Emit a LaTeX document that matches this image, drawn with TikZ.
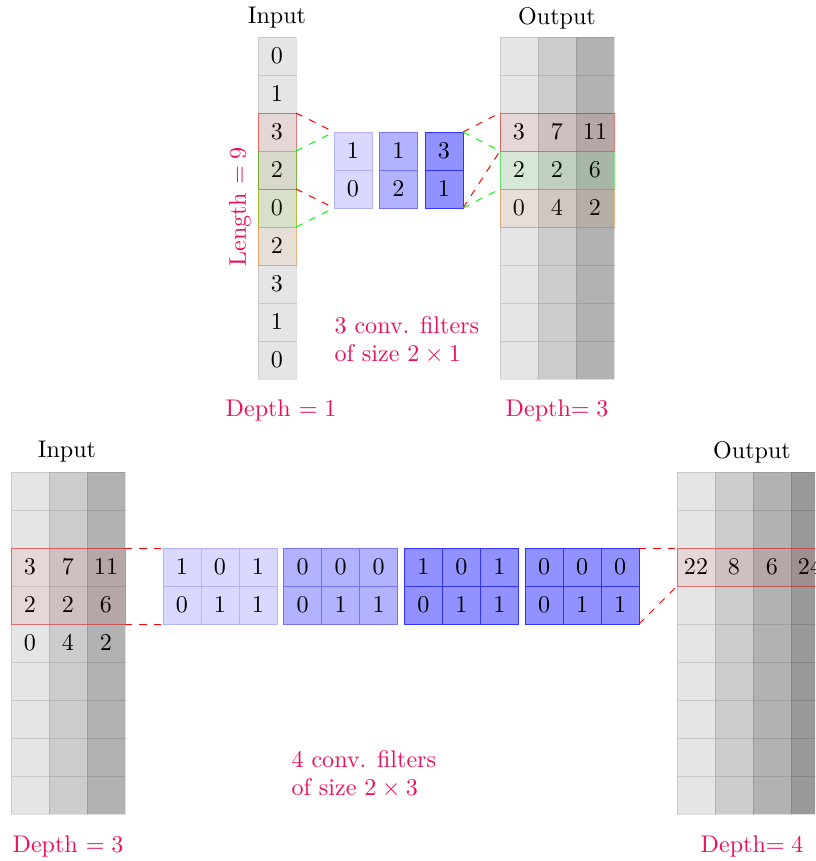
\documentclass[tikz,border=0pt]{standalone}
\colorlet{pinktxt}{magenta!50!red}
\tikzset{
  cell/.style={minimum width=5.548mm,minimum height=5.548mm,inner sep=0pt,outer sep=0pt,draw=black,draw opacity=0.12},
  fcell/.style={minimum width=5.548mm,minimum height=5.548mm,inner sep=0pt,outer sep=0pt},
  win/.style={draw=#1,draw opacity=0.45,fill=#1,fill opacity=0.06},
  link/.style={draw=#1,dashed},
  note/.style={text=pinktxt}
}
\begin{document}
\begin{tikzpicture}[x=0.0146cm,y=-0.0146cm]
        \path[use as bounding box] (0,0) rectangle (815,861);
        \clip (0,0) rectangle (815,861);
        % top: depth 1 -> depth 3
        \node (inlabA) at (277,18) {Input};
        \node (outlabA) at (557,18) {Output};
        \foreach \v [count=\r] in {0,1,3,2,0,2,3,1,0}
            \node[cell,fill=black!10] (in-\r) at (277,{18+38*\r}) {$\v$};
        \foreach \c/\sh/\a/\b/\d in {1/10/3/2/0,2/20/7/2/4,3/30/11/6/2}
            \foreach \r in {1,...,9}
                \node[cell,fill=black!\sh] (oa-\c-\r) at ({481+38*\c},{18+38*\r}) {\ifcase\r\or\or\or$\a$\or$\b$\or$\d$\fi};
        \foreach \k/\sh/\dr/\a/\b in {1/15/30/1/0,2/30/55/1/2,3/43/80/3/1}{
            \node[fcell,fill=blue!\sh,draw=blue!\dr] (fa\k-1) at ({307.5+45.5*\k},151) {$\a$};
            \node[fcell,fill=blue!\sh,draw=blue!\dr] (fa\k-2) at ({307.5+45.5*\k},189) {$\b$};
        }
        \draw[win=red] (in-3.north west) rectangle (in-4.south east);
        \draw[win=green] (in-4.north west) rectangle (in-5.south east);
        \draw[win=orange] (in-5.north west) rectangle (in-6.south east);
        \draw[win=red] (oa-1-3.north west) rectangle (oa-3-3.south east);
        \draw[win=green] (oa-1-4.north west) rectangle (oa-3-4.south east);
        \draw[win=orange] (oa-1-5.north west) rectangle (oa-3-5.south east);
        \draw[link=red] (in-3.north east) -- (fa1-1.north west);
        \draw[link=red] (in-4.south east) -- (fa1-2.south west);
        \draw[link=green] (in-4.north east) -- (fa1-1.north west);
        \draw[link=green] (in-5.south east) -- (fa1-2.south west);
        \draw[link=red] (fa3-1.north east) -- (oa-1-3.north west);
        \draw[link=red] (fa3-2.south east) -- (oa-1-3.south west);
        \draw[link=green] (fa3-1.north east) -- (oa-1-4.north west);
        \draw[link=green] (fa3-2.south east) -- (oa-1-4.south west);
        \node[note,rotate=90] (lenlab) at (240,207) {Length $=9$};
        \node[note,align=left,anchor=west] (filtlabA) at (326,340) {3 conv. filters\\of size $2\times1$};
        \node[note] (depthA) at (281,410) {Depth $=1$};
        \node[note] (depthB) at (557,410) {Depth$=3$};
        % bottom: depth 3 -> depth 4
        \node (inlabB) at (67,452) {Input};
        \node (outlabB) at (752,452) {Output};
        \foreach \c/\sh/\a/\b/\d in {1/10/3/2/0,2/20/7/2/4,3/30/11/6/2}
            \foreach \r in {1,...,9}
                \node[cell,fill=black!\sh] (ib-\c-\r) at ({-8+38*\c},{453+38*\r}) {\ifcase\r\or\or\or$\a$\or$\b$\or$\d$\fi};
        \foreach \c/\sh/\a in {1/10/22,2/20/8,3/30/6,4/40/24}
            \foreach \r in {1,...,9}
                \node[cell,fill=black!\sh] (ob-\c-\r) at ({658+38*\c},{453+38*\r}) {\ifnum\r=3 $\a$\fi};
        \foreach \k/\sh/\dr/\a/\b/\d in {1/15/30/1/0/1,2/30/55/0/0/0,3/43/80/1/0/1,4/43/80/0/0/0}{
            \node[fcell,fill=blue!\sh,draw=blue!\dr] (fb\k-1-1) at ({23.33+120.67*\k+38},567) {$\a$};
            \node[fcell,fill=blue!\sh,draw=blue!\dr] (fb\k-2-1) at ({23.33+120.67*\k+76},567) {$\b$};
            \node[fcell,fill=blue!\sh,draw=blue!\dr] (fb\k-3-1) at ({23.33+120.67*\k+114},567) {$\d$};
            \foreach \c/\v in {1/0,2/1,3/1}
                \node[fcell,fill=blue!\sh,draw=blue!\dr] (fb\k-\c-2) at ({23.33+120.67*\k+38*\c},605) {$\v$};
        }
        \draw[win=red] (ib-1-3.north west) rectangle (ib-3-4.south east);
        \draw[win=red] (ob-1-3.north west) rectangle (ob-4-3.south east);
        \draw[link=red] (ib-3-3.north east) -- (fb1-1-1.north west);
        \draw[link=red] (ib-3-4.south east) -- (fb1-1-2.south west);
        \draw[link=red] (fb4-3-1.north east) -- (ob-1-3.north west);
        \draw[link=red] (fb4-3-2.south east) -- (ob-1-3.south west);
        \node[note,align=left,anchor=west] (filtlabB) at (283,774) {4 conv. filters\\of size $2\times3$};
        \node[note] (depthC) at (68,846) {Depth $=3$};
        \node[note] (depthD) at (752,846) {Depth$=4$};
\end{tikzpicture}
\end{document}
